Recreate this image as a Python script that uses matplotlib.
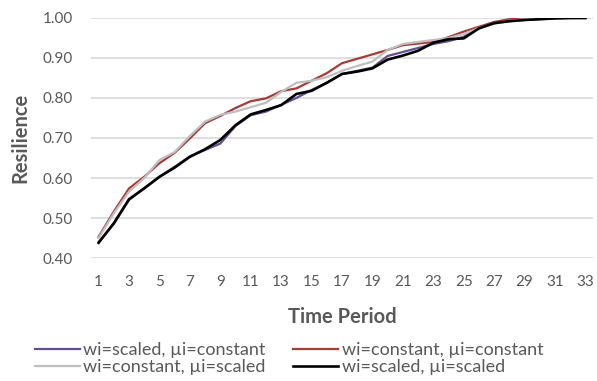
import numpy as np
import matplotlib
matplotlib.use("Agg")
import matplotlib.pyplot as plt

plt.rcParams['font.family'] = ['Lato', 'DejaVu Sans']

periods = list(range(1, 34))

# resilience per time period for each weighting scheme
scaled_const = [0.440, 0.485, 0.545, 0.575, 0.603, 0.628, 0.654, 0.670, 0.686, 0.730,
                0.757, 0.766, 0.783, 0.800, 0.820, 0.838, 0.860, 0.868, 0.876, 0.905,
                0.915, 0.925, 0.935, 0.942, 0.953, 0.974, 0.987, 0.992, 0.995, 0.997,
                0.999, 1.000, 1.000]
const_const = [0.453, 0.516, 0.574, 0.603, 0.637, 0.663, 0.699, 0.737, 0.755, 0.775,
               0.792, 0.799, 0.817, 0.824, 0.843, 0.862, 0.887, 0.898, 0.909, 0.920,
               0.932, 0.936, 0.940, 0.952, 0.966, 0.978, 0.990, 0.997, 1.000, 1.000,
               1.000, 1.000, 1.000]
const_scaled = [0.450, 0.512, 0.566, 0.600, 0.645, 0.665, 0.705, 0.741, 0.758, 0.766,
                0.777, 0.788, 0.815, 0.838, 0.843, 0.852, 0.868, 0.880, 0.891, 0.920,
                0.935, 0.940, 0.945, 0.950, 0.960, 0.975, 0.986, 0.993, 0.997, 0.999,
                1.000, 1.000, 1.000]
scaled_scaled = [0.438, 0.487, 0.547, 0.574, 0.603, 0.626, 0.653, 0.672, 0.695, 0.732,
                 0.759, 0.770, 0.782, 0.810, 0.818, 0.838, 0.860, 0.866, 0.874, 0.896,
                 0.906, 0.918, 0.938, 0.947, 0.949, 0.974, 0.987, 0.992, 0.995, 0.997,
                 0.999, 1.000, 1.000]

labels = ["wi=scaled, µi=constant", "wi=constant, µi=constant",
          "wi=constant, µi=scaled", "wi=scaled, µi=scaled"]
colors = ["#64508F", "#A83A36", "#BFBFBF", "#000000"]
widths = [1.6, 1.6, 1.6, 1.9]

fig = plt.figure(figsize=(5.97, 3.81), dpi=100)
ax = fig.add_axes([0.1524, 0.3228, 0.8409, 0.6300])

series = [scaled_const, const_const, const_scaled, scaled_scaled]
lines = []
for vals, lab, col, w in zip(series, labels, colors, widths):
    ln, = ax.plot(periods, vals, color=col, lw=w, label=lab)
    lines.append(ln)

ax.set_xlim(0.5, 33.5)
ax.set_ylim(0.4, 1.0)
ax.set_xticks(periods[::2])
yt = np.arange(0.4, 1.001, 0.1)
ax.set_yticks(yt)
ax.set_yticklabels(["%.2f" % v for v in yt])
ax.grid(axis='y', color='#D9D9D9', lw=1.2)
ax.set_axisbelow(True)
for s in ax.spines.values():
    s.set_visible(False)
ax.tick_params(length=0, labelsize=11, labelcolor='#595959')
ax.tick_params(axis='y', pad=13)
ax.tick_params(axis='x', pad=12)

ax.set_xlabel("Time Period", fontsize=14.5, fontweight='bold', color='#595959', labelpad=13)
ax.set_ylabel("Resilience", fontsize=14.5, fontweight='bold', color='#595959', labelpad=9)

# legend filled column-wise, so reorder to read across rows
order = [0, 2, 1, 3]
leg = fig.legend([lines[i] for i in order], [labels[i] for i in order],
                 loc='lower center', bbox_to_anchor=(0.484, -0.008), ncol=2, frameon=False,
                 fontsize=13, handlelength=2.5, columnspacing=1.5, labelspacing=0.05,
                 handletextpad=0.2, borderpad=0)
for t in leg.get_texts():
    t.set_color('#595959')

fig.savefig("out.png", dpi=100)
